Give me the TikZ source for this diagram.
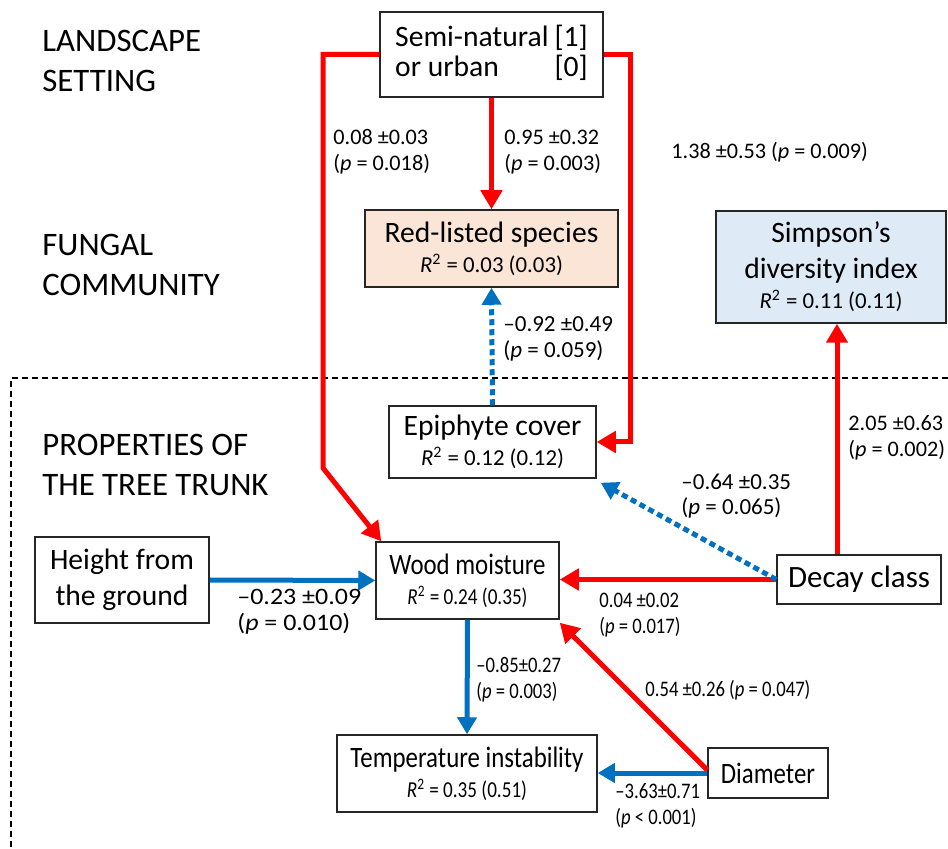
\documentclass[tikz,border=0pt]{standalone}
\usepackage{fontspec}
\usepackage{graphicx}
\setmainfont{Carlito}
\usetikzlibrary{arrows.meta,calc}
\definecolor{myred}{HTML}{FF0000}
\definecolor{myblue}{HTML}{0070C0}
\definecolor{peach}{HTML}{FBE5D6}
\definecolor{lblue}{HTML}{DEEBF7}
\newcommand\bigfnt{\fontsize{14.8}{18}\selectfont}
\newcommand\ttlfnt{\fontsize{16.4}{20}\selectfont}
\newcommand\smlfnt{\fontsize{11.1}{12.8}\selectfont}
\newcommand\rsq[1]{{\fontsize{11.4}{12.8}\selectfont\textit{R}\textsuperscript{2} = #1}}
\newcommand\cnd[1]{\scalebox{0.84}[1]{#1}}
\tikzset{
  box/.style={draw=black!85, line width=0.75pt, inner sep=0pt, align=center, font=\bigfnt},
  title/.style={anchor=west, align=left, inner sep=0pt, font=\ttlfnt},
  lab/.style={anchor=west, align=left, inner sep=0pt, font=\smlfnt},
  redarrow/.style={draw=myred, line width=2.5pt, -{Triangle[length=9.5pt,width=10.5pt]}},
  bluearrow/.style={draw=myblue, line width=2.5pt, -{Triangle[length=8.5pt,width=9.5pt]}},
  dotarrow/.style={draw=myblue, line width=2.5pt, dash pattern=on 3pt off 2pt, -{Triangle[length=8.5pt,width=9.5pt]}},
  sep/.style={draw=black, line width=0.6pt, dash pattern=on 3pt off 2pt}
}
\begin{document}
\begin{tikzpicture}[x=0.5pt,y=-0.5pt]
\useasboundingbox (0,0) rectangle (948,849);
% separator
\draw[sep] (948,378) -- (11,378) -- (11,849);
% titles
\node[title] (t1) at (42,61) {LANDSCAPE\\SETTING};
\node[title] (t2) at (42,265) {FUNGAL\\COMMUNITY};
\node[title] (t3) at (42,465) {PROPERTIES OF\\THE TREE TRUNK};
% boxes
\node[box, minimum width=223*0.5pt, minimum height=85*0.5pt] (semi) at (491.5,54.5)
  {\begin{tabular}{@{}l@{\hspace{3pt}}r@{}}Semi-natural&[1]\\[-3pt] or urban&[0]\end{tabular}};
\node[box, fill=peach, minimum width=253*0.5pt, minimum height=77*0.5pt] (red) at (491.5,248.5)
  {Red-listed species\\[-3pt]\rsq{0.03 (0.03)}};
\node[box, fill=lblue, minimum width=230*0.5pt, minimum height=112*0.5pt] (simp) at (831,267)
  {Simpson’s\\diversity index\\[-3pt]\rsq{0.11 (0.11)}};
\node[box, minimum width=207*0.5pt, minimum height=72*0.5pt] (epi) at (492.5,442)
  {Epiphyte cover\\[-3pt]\rsq{0.12 (0.12)}};
\node[box, minimum width=183*0.5pt, minimum height=77*0.5pt] (wood) at (467.5,580.5)
  {\cnd{Wood moisture}\\[-3pt]\cnd{\rsq{0.24 (0.35)}}};
\node[box, minimum width=174*0.5pt, minimum height=86*0.5pt] (height) at (122,580)
  {Height from\\the ground};
\node[box, font=\fontsize{15.5}{18}\selectfont, minimum width=164*0.5pt, minimum height=49*0.5pt] (decay) at (859,579.5)
  {Decay class};
\node[box, minimum width=260*0.5pt, minimum height=77*0.5pt] (temp) at (467,773.5)
  {\cnd{Temperature instability}\\[-3pt]\cnd{\rsq{0.35 (0.51)}}};
\node[box, minimum width=120*0.5pt, minimum height=50*0.5pt] (diam) at (768,773)
  {\cnd{Diameter}};
% helper coordinates
\coordinate (c1) at (323,468);
\coordinate (c2) at (630,442);
\coordinate (dx) at (837,0);
% connectors
\draw[redarrow, line join=miter] (semi.west) -| (c1) -- ([xshift=3pt]wood.north west);
\draw[redarrow, line join=miter] (semi.east) -| (c2) -- (epi.east);
\draw[redarrow] (semi.south) -- (red.north);
\draw[dotarrow] (epi.north) -- (red.south);
\draw[redarrow] (decay.north -| dx) -- (simp.south -| dx);
\draw[redarrow] (decay.west) -- (wood.east |- decay.west);
\draw[dotarrow] (decay.west) -- ([xshift=2pt,yshift=-2pt]epi.south east);
\draw[bluearrow] (height.east) -- (wood.west);
\draw[bluearrow] (wood.south) -- (temp.north);
\draw[bluearrow] (diam.west) -- (temp.east |- diam.west);
\draw[redarrow] ([yshift=1.5pt]diam.west) -- ([yshift=-1.5pt]wood.south east);
% labels
\node[lab] (l1) at (333,152) {0.08 ±0.03\\(\textit{p} = 0.018)};
\node[lab] (l2) at (504,152) {0.95 ±0.32\\(\textit{p} = 0.003)};
\node[lab] (l3) at (671,152) {1.38 ±0.53 (\textit{p} = 0.009)};
\node[lab, font=\fontsize{11.5}{12.8}\selectfont] (l4) at (503,339) {–0.92 ±0.49\\(\textit{p} = 0.059)};
\node[lab] (l5) at (848,438) {2.05 ±0.63\\(\textit{p} = 0.002)};
\node[lab, font=\fontsize{11.5}{12.8}\selectfont] (l6) at (681,496) {–0.64 ±0.35\\(\textit{p} = 0.065)};
\node[lab, font=\fontsize{11.8}{13}\selectfont] (l7) at (237,612) {\scalebox{1.1}[1]{–0.23 ±0.09}\\\scalebox{1.1}[1]{(\textit{p} = 0.010)}};
\node[lab] (l8) at (599,615) {\cnd{0.04 ±0.02}\\\cnd{(\textit{p} = 0.017)}};
\node[lab] (l9) at (476,680) {\cnd{–0.85±0.27}\\\cnd{(\textit{p} = 0.003)}};
\node[lab] (l10) at (645,690) {\cnd{0.54 ±0.26 (\textit{p} = 0.047)}};
\node[lab] (l11) at (615,806) {\cnd{–3.63±0.71}\\\cnd{(\textit{p} < 0.001)}};
\end{tikzpicture}
\end{document}
